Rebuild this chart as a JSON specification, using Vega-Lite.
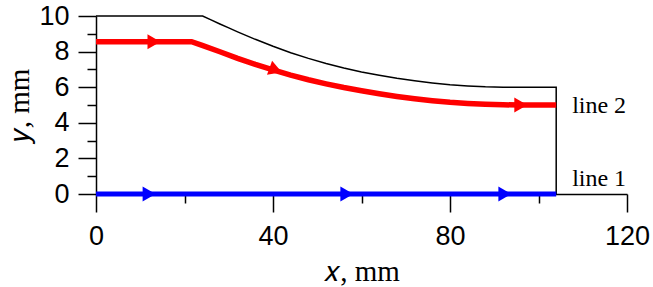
{
  "$schema": "https://vega.github.io/schema/vega-lite/v6.json",
  "width": 531,
  "height": 178,
  "autosize": {"type": "none"},
  "padding": {"left": 96, "top": 16, "right": 26, "bottom": 93},
  "background": "white",
  "config": {
    "view": {"stroke": null},
    "axis": {"grid": false, "zindex": 0}
  },
  "datasets": {
    "outline": [
      {"i": 0, "x": 0, "y": 10}, {"i": 1, "x": 24.1, "y": 10}, {"i": 2, "x": 26, "y": 9.78},
      {"i": 3, "x": 28, "y": 9.55}, {"i": 4, "x": 30, "y": 9.33}, {"i": 5, "x": 32, "y": 9.11},
      {"i": 6, "x": 36, "y": 8.69}, {"i": 7, "x": 40, "y": 8.3}, {"i": 8, "x": 44, "y": 7.94},
      {"i": 9, "x": 48, "y": 7.62}, {"i": 10, "x": 52, "y": 7.33}, {"i": 11, "x": 56, "y": 7.08},
      {"i": 12, "x": 60, "y": 6.86}, {"i": 13, "x": 64, "y": 6.67}, {"i": 14, "x": 68, "y": 6.5},
      {"i": 15, "x": 72, "y": 6.36}, {"i": 16, "x": 76, "y": 6.24}, {"i": 17, "x": 80, "y": 6.14},
      {"i": 18, "x": 84, "y": 6.07}, {"i": 19, "x": 88, "y": 6.02}, {"i": 20, "x": 92, "y": 6.0},
      {"i": 21, "x": 104, "y": 6}, {"i": 22, "x": 104, "y": 0}
    ],
    "line2": [
      {"x": 0, "y": 8.56}, {"x": 21.6, "y": 8.56}, {"x": 24, "y": 8.35}, {"x": 28, "y": 7.99},
      {"x": 32, "y": 7.62}, {"x": 36, "y": 7.28}, {"x": 40, "y": 6.97}, {"x": 44, "y": 6.68},
      {"x": 48, "y": 6.42}, {"x": 52, "y": 6.19}, {"x": 56, "y": 5.98}, {"x": 60, "y": 5.8},
      {"x": 64, "y": 5.63}, {"x": 68, "y": 5.48}, {"x": 72, "y": 5.35}, {"x": 76, "y": 5.24},
      {"x": 80, "y": 5.15}, {"x": 84, "y": 5.09}, {"x": 88, "y": 5.04}, {"x": 92, "y": 5.01},
      {"x": 96, "y": 5.0}, {"x": 104, "y": 5.0}
    ],
    "line1": [
      {"x": 0, "y": 0}, {"x": 104, "y": 0}
    ],
    "arrows": [
      {"line": "line 2", "x": 13.1, "y": 8.56},
      {"line": "line 2", "x": 96, "y": 5.0},
      {"line": "line 1", "x": 12, "y": 0},
      {"line": "line 1", "x": 56.7, "y": 0},
      {"line": "line 1", "x": 92.4, "y": 0}
    ],
    "tiltedArrows": [
      {"line": "line 2", "x": 40.6, "y": 6.97}
    ],
    "labels": [
      {"label": "line 2", "x": 107.6, "y": 4.55},
      {"label": "line 1", "x": 107.6, "y": 0.45}
    ]
  },
  "encoding": {
    "x": {
      "field": "x", "type": "quantitative",
      "scale": {"domain": [0, 120], "nice": false, "zero": false},
      "axis": {
        "title": "𝑥, mm",
        "values": [0, 20, 40, 60, 80, 100, 120],
        "labelExpr": "datum.value % 40 === 0 ? datum.label : ''",
        "tickSize": {"condition": {"test": "datum.value % 40 === 0", "value": 18}, "value": 9},
        "tickColor": "black", "tickWidth": 1.5,
        "domainColor": "black", "domainWidth": 1.5,
        "labelFont": "Liberation Sans", "labelFontSize": 27, "labelColor": "black",
        "labelPadding": 11, "labelFlush": false, "labelOverlap": false,
        "titleFont": "Liberation Serif", "titleFontSize": 29, "titleFontWeight": "normal",
        "titleColor": "black", "titlePadding": 8
      }
    },
    "y": {
      "field": "y", "type": "quantitative",
      "scale": {"domain": [0, 10], "nice": false, "zero": false},
      "axis": {
        "title": "𝑦, mm",
        "values": [0, 1, 2, 3, 4, 5, 6, 7, 8, 9, 10],
        "labelExpr": "datum.value % 2 === 0 ? datum.label : ''",
        "tickSize": {"condition": {"test": "datum.value % 2 === 0", "value": 18}, "value": 9},
        "tickColor": "black", "tickWidth": 1.5,
        "domainColor": "black", "domainWidth": 1.5,
        "labelFont": "Liberation Sans", "labelFontSize": 27, "labelColor": "black",
        "labelPadding": 9, "labelFlush": false, "labelOverlap": false,
        "titleFont": "Liberation Serif", "titleFontSize": 29, "titleFontWeight": "normal",
        "titleColor": "black", "titlePadding": 4
      }
    }
  },
  "layer": [
    {
      "data": {"name": "outline"},
      "mark": {"type": "line", "color": "black", "strokeWidth": 1.5, "clip": false},
      "encoding": {"order": {"field": "i", "type": "quantitative"}}
    },
    {
      "data": {"name": "line2"},
      "mark": {"type": "line", "color": "#ff0000", "strokeWidth": 5.5, "clip": false},
      "encoding": {}
    },
    {
      "data": {"name": "line1"},
      "mark": {"type": "line", "color": "#0000ff", "strokeWidth": 5, "clip": false},
      "encoding": {}
    },
    {
      "data": {"name": "arrows"},
      "mark": {"type": "point", "shape": "triangle-right", "filled": true, "size": 225, "opacity": 1},
      "encoding": {
        "color": {"field": "line", "type": "nominal", "scale": {"domain": ["line 1", "line 2"], "range": ["#0000ff", "#ff0000"]}, "legend": null}
      }
    },
    {
      "data": {"name": "tiltedArrows"},
      "mark": {"type": "point", "shape": "triangle-right", "filled": true, "size": 225, "opacity": 1, "angle": 20, "color": "#ff0000"},
      "encoding": {}
    },
    {
      "data": {"name": "labels"},
      "mark": {"type": "text", "align": "left", "baseline": "alphabetic", "font": "Liberation Serif", "fontSize": 24, "color": "black"},
      "encoding": {"text": {"field": "label", "type": "nominal"}}
    }
  ]
}
